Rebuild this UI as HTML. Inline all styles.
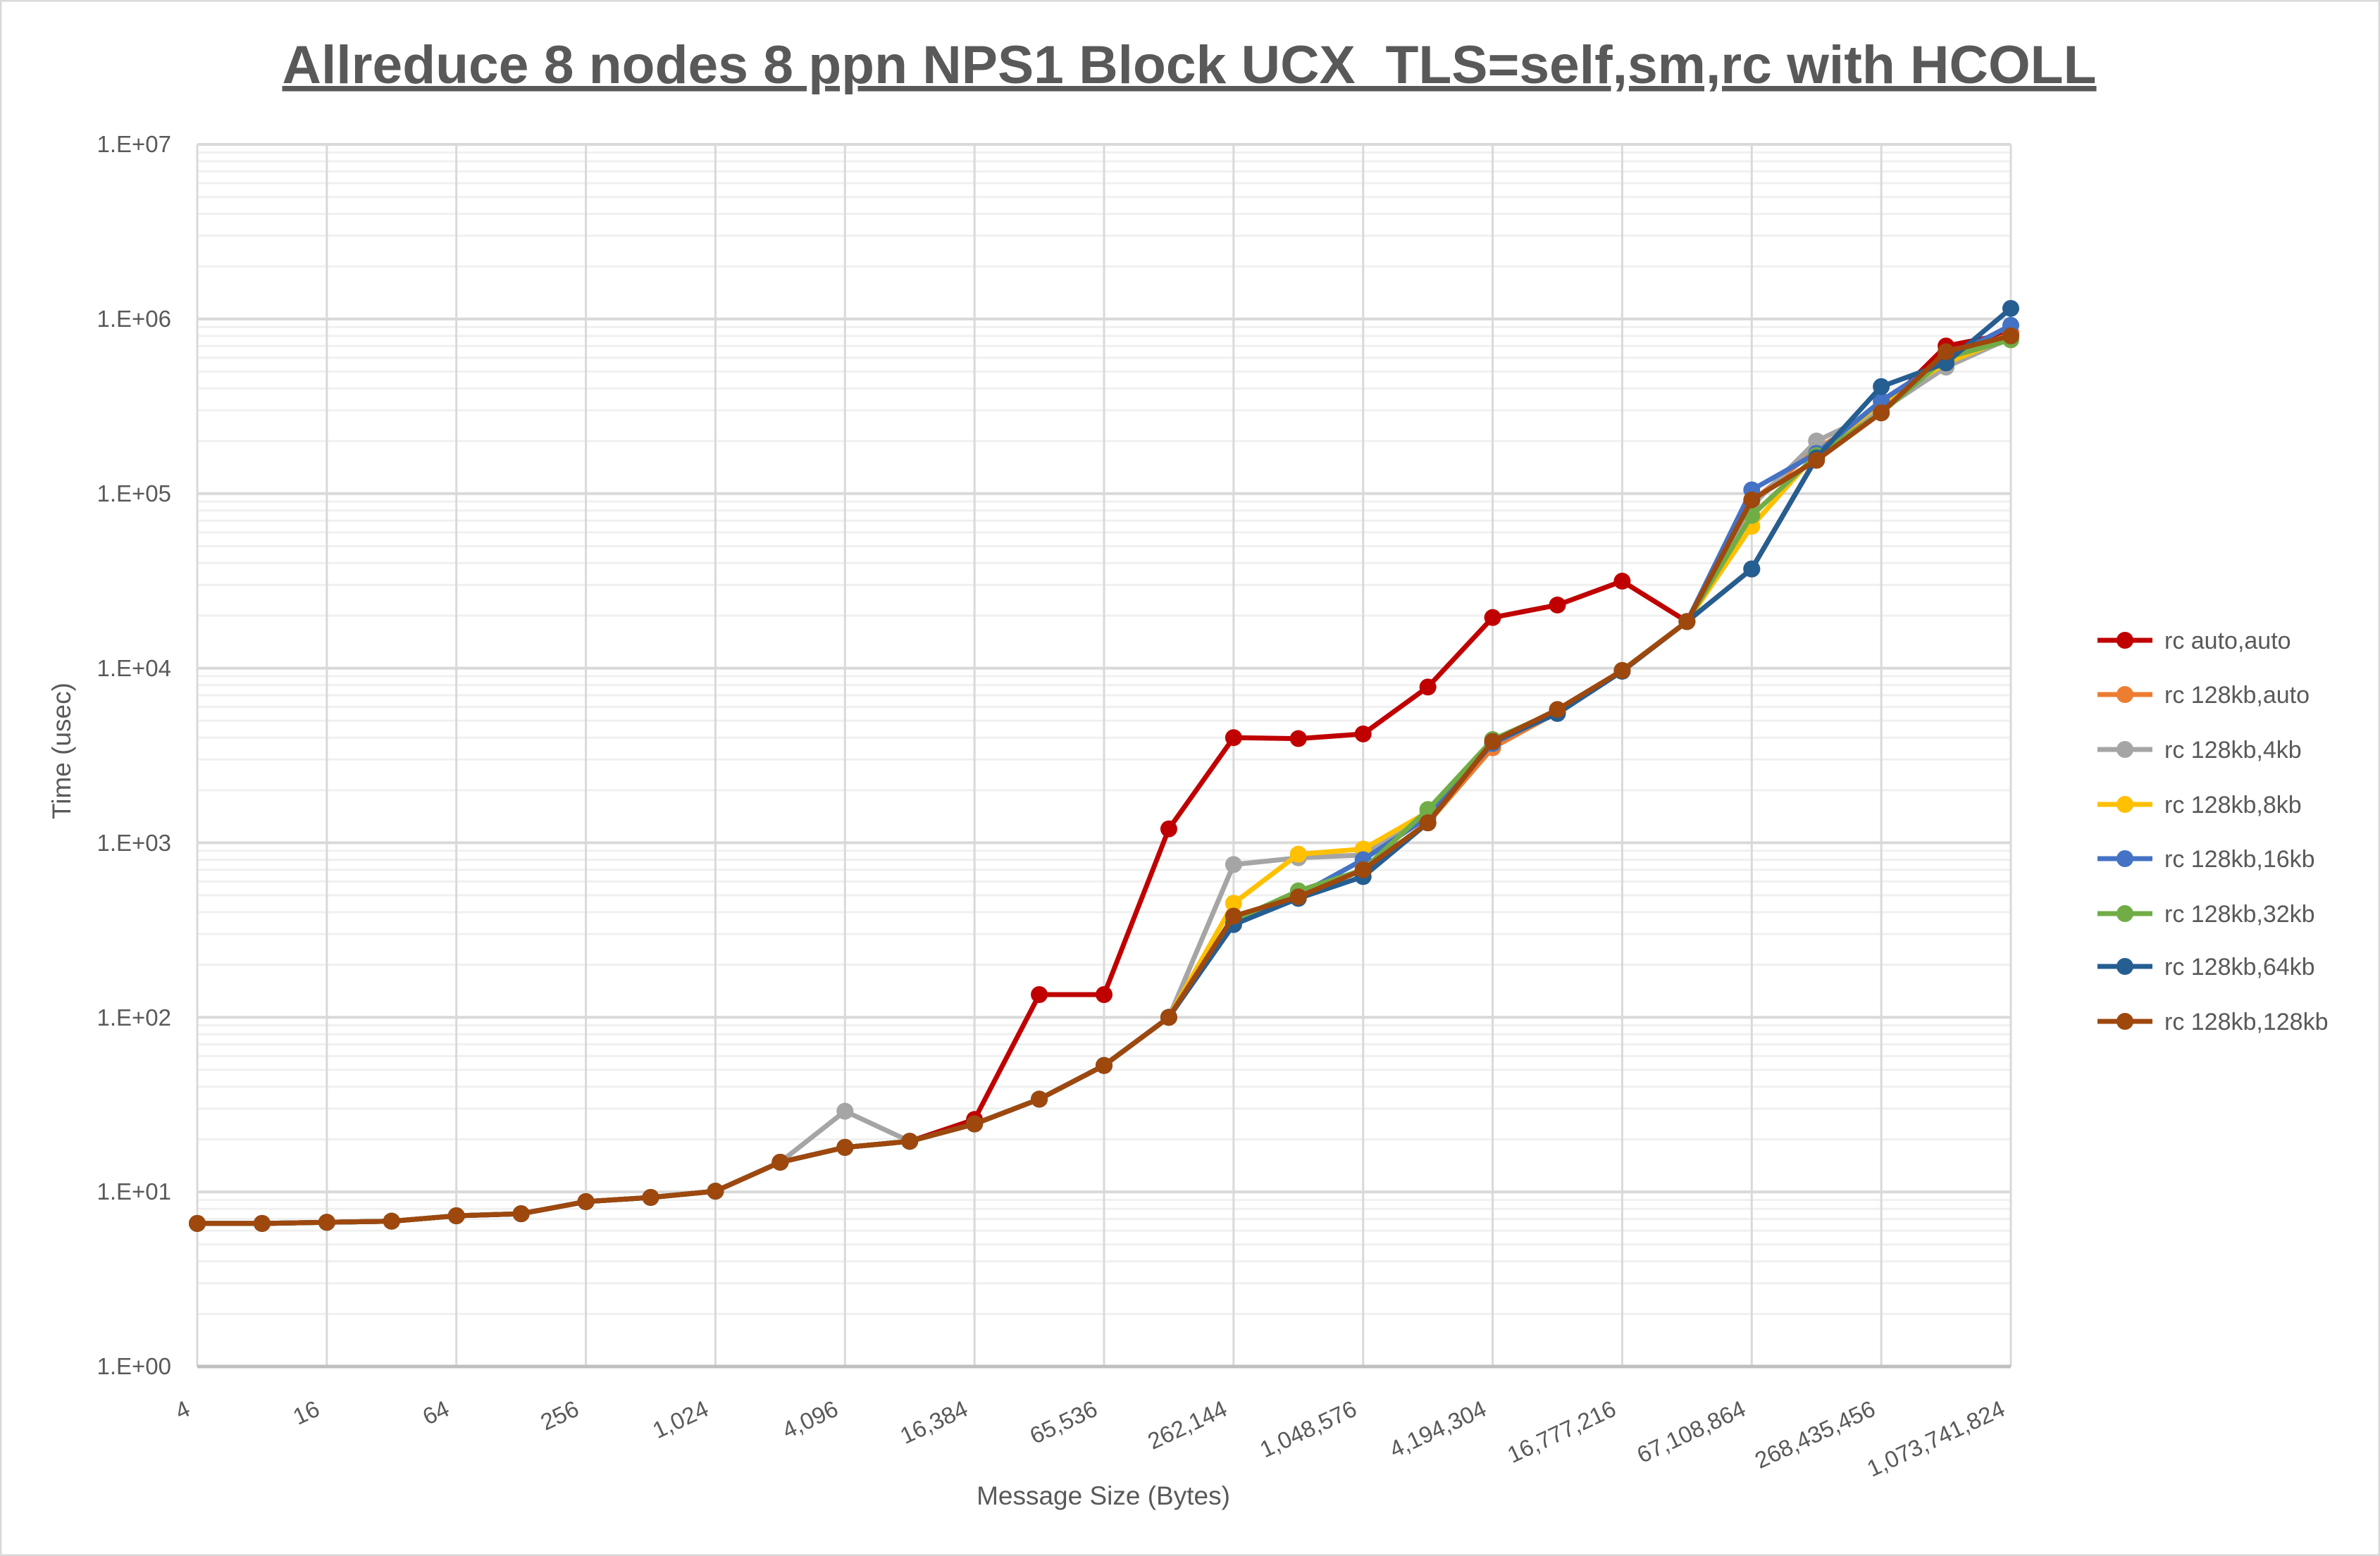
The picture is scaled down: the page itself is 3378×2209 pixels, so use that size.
<!DOCTYPE html>
<html><head><meta charset="utf-8"><style>
html,body{margin:0;padding:0;background:#fff}
svg{display:block}
text{font-family:"Liberation Sans",sans-serif;fill:#595959}
</style></head><body>
<svg id="c" width="3378" height="2209" viewBox="0 0 3378 2209" xmlns="http://www.w3.org/2000/svg">
<rect x="1" y="1" width="3376" height="2207" fill="#fff" stroke="#d9d9d9" stroke-width="3"/>
<g id="grid"></g>
<g id="series"></g>
<text x="1688" y="118" text-anchor="middle" font-size="76" font-weight="bold" text-decoration="underline" textLength="2575" lengthAdjust="spacingAndGlyphs">Allreduce 8 nodes 8 ppn NPS1 Block UCX_TLS=self,sm,rc with HCOLL</text>
<g font-size="33" text-anchor="end">
<text x="243" y="216">1.E+07</text>
<text x="243" y="464">1.E+06</text>
<text x="243" y="712">1.E+05</text>
<text x="243" y="960">1.E+04</text>
<text x="243" y="1208">1.E+03</text>
<text x="243" y="1456">1.E+02</text>
<text x="243" y="1703">1.E+01</text>
<text x="243" y="1951">1.E+00</text>
</g>
<g font-size="33" text-anchor="end" id="xl">
<text transform="translate(272,2008) rotate(-25)">4</text>
<text transform="translate(456,2008) rotate(-25)">16</text>
<text transform="translate(640,2008) rotate(-25)">64</text>
<text transform="translate(824,2008) rotate(-25)">256</text>
<text transform="translate(1008,2008) rotate(-25)">1,024</text>
<text transform="translate(1192,2008) rotate(-25)">4,096</text>
<text transform="translate(1376,2008) rotate(-25)">16,384</text>
<text transform="translate(1560,2008) rotate(-25)">65,536</text>
<text transform="translate(1744,2008) rotate(-25)">262,144</text>
<text transform="translate(1928,2008) rotate(-25)">1,048,576</text>
<text transform="translate(2112,2008) rotate(-25)">4,194,304</text>
<text transform="translate(2296,2008) rotate(-25)">16,777,216</text>
<text transform="translate(2480,2008) rotate(-25)">67,108,864</text>
<text transform="translate(2664,2008) rotate(-25)">268,435,456</text>
<text transform="translate(2848,2008) rotate(-25)">1,073,741,824</text>
</g>
<text x="1566" y="2136" text-anchor="middle" font-size="37">Message Size (Bytes)</text>
<text transform="translate(100,1066) rotate(-90)" text-anchor="middle" font-size="37">Time (usec)</text>
<g id="legend" font-size="34">
<text x="3072" y="921">rc auto,auto</text>
<text x="3072" y="998">rc 128kb,auto</text>
<text x="3072" y="1076">rc 128kb,4kb</text>
<text x="3072" y="1154">rc 128kb,8kb</text>
<text x="3072" y="1231">rc 128kb,16kb</text>
<text x="3072" y="1309">rc 128kb,32kb</text>
<text x="3072" y="1384">rc 128kb,64kb</text>
<text x="3072" y="1462">rc 128kb,128kb</text>
</g>
</svg>
<script>
(function(){
var NS="http://www.w3.org/2000/svg";
var L=280,R=2854,T=205,B=1940,dec=(B-T)/7;
function X(i){return L+i*(R-L)/28;}
function Y(v){return B-Math.log10(v)*dec;}
function el(p,n,a){var e=document.createElementNS(NS,n);for(var k in a)e.setAttribute(k,a[k]);p.appendChild(e);return e;}
var g=document.getElementById('grid');
for(var d=0;d<7;d++)for(var m=2;m<10;m++){var y=Y(Math.pow(10,d)*m);el(g,'line',{x1:L,x2:R,y1:y,y2:y,stroke:'#f0f0f0','stroke-width':3});}
for(var i=0;i<=28;i+=2){el(g,'line',{x1:X(i),x2:X(i),y1:T,y2:B,stroke:'#d9d9d9','stroke-width':3});}
for(var d=1;d<=7;d++){var y=Y(Math.pow(10,d));el(g,'line',{x1:L,x2:R,y1:y,y2:y,stroke:'#d9d9d9','stroke-width':4});}
el(g,'line',{x1:L,x2:R,y1:B,y2:B,stroke:'#bfbfbf','stroke-width':5});
var base=[6.6,6.6,6.7,6.8,7.3,7.5,8.8,9.3,10.1,14.8,18,19.5,24.5,34,53,100];
function mk(tail,over){var a=base.concat(tail);if(over)for(var k in over)a[k]=over[k];return a;}
var S=[
['#c00000',mk([4000,3950,4200,7800,19500,23000,31500,18500,37000,160000,300000,700000,830000],{12:26,13:135,14:135,15:1200})],
['#ed7d31',mk([360,500,700,1300,3500,5600,9600,18500,90000,180000,300000,600000,820000])],
['#a5a5a5',mk([750,820,850,1500,3700,5700,9700,18500,85000,200000,300000,530000,780000],{10:29})],
['#ffc000',mk([450,860,920,1500,3700,5700,9700,18500,65000,170000,330000,560000,790000])],
['#4472c4',mk([340,500,800,1400,3700,5600,9700,18500,105000,170000,340000,590000,920000])],
['#70ad47',mk([360,530,700,1550,3900,5700,9700,18500,75000,165000,290000,600000,760000])],
['#255e91',mk([340,480,640,1300,3800,5500,9600,18500,37000,160000,410000,560000,1150000])],
['#9e480e',mk([380,490,700,1300,3800,5800,9700,18500,92000,155000,290000,650000,800000])]
];
var sg=document.getElementById('series');
S.forEach(function(s,j){
 var pts=s[1].map(function(v,i){return X(i).toFixed(1)+','+Y(v).toFixed(1);}).join(' ');
 el(sg,'polyline',{points:pts,fill:'none',stroke:s[0],'stroke-width':7,'stroke-linejoin':'round'});
 s[1].forEach(function(v,i){el(sg,'circle',{cx:X(i),cy:Y(v),r:12,fill:s[0]});});
 var ly=[909,986,1064,1142,1219,1297,1372,1450][j];
 el(sg,'line',{x1:2977,x2:3055,y1:ly,y2:ly,stroke:s[0],'stroke-width':7});
 el(sg,'circle',{cx:3016,cy:ly,r:12,fill:s[0]});
});
})();
</script>
</body></html>
